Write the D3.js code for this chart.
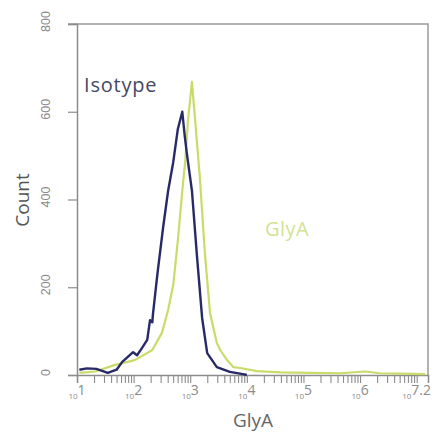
<!DOCTYPE html>
<html>
<head>
<meta charset="utf-8">
<script src="https://cdn.jsdelivr.net/npm/d3@7/dist/d3.min.js"></script>
<style>
  html, body { margin: 0; padding: 0; background: #fff; }
  svg { display: block; font-family: "Open Sans", "DejaVu Sans", sans-serif; }
</style>
</head>
<body>
<svg id="chart" width="446" height="435"></svg>
<script>
// Flow cytometry histogram: GlyA staining vs isotype control
const isotypeIntensity = [11, 15, 22, 35, 50, 63, 98, 115, 141, 174, 195, 214, 219, 263, 331, 407, 501, 603, 724, 800, 871, 1072, 1318, 1622, 1995, 2951, 5012, 8511, 10000];
const isotypeCount     = [12, 15, 14, 5, 12, 30, 52, 45, 62, 80, 125, 120, 137, 230, 335, 420, 485, 560, 600, 545, 505, 420, 270, 130, 50, 18, 7, 2, 0];

const glyaIntensity = [11, 21, 47, 105, 214, 316, 407, 501, 603, 724, 813, 912, 1072, 1259, 1479, 1820, 2239, 2951, 3388, 4467, 5754, 7586, 15136, 38905, 131826, 446684, 1230269, 2238721, 5128614, 14125375];
const glyaCount     = [5, 8, 23, 34, 57, 96, 148, 205, 305, 420, 485, 580, 668, 560, 450, 275, 141, 73, 57, 34, 18, 16, 9, 6, 5, 4, 8, 4, 3, 2];

const countTicks = [0, 200, 400, 600, 800];
const decadeExponents = ["1", "2", "3", "4", "5", "6", "7.2"];

const svg = d3.select("#chart");
const margin = { left: 77, right: 428, top: 24, bottom: 375 };

const x = d3.scaleLog().domain([10, Math.pow(10, 7.2)]).range([margin.left, margin.right]);
const y = d3.scaleLinear().domain([0, 800]).range([margin.bottom, margin.top]);

const axisColor = "#8c8c8c";

// frame: top and right borders
svg.append("path")
  .attr("d", `M${margin.left - 9},${margin.top}H${margin.right}V${margin.bottom}`)
  .attr("fill", "none").attr("stroke", "#9a9a9a").attr("stroke-width", 1.5);

// y axis
const yAxis = d3.axisLeft(y).tickValues(countTicks).tickSize(9).tickFormat(d3.format("d"));
const yg = svg.append("g").attr("transform", `translate(${margin.left},0)`).call(yAxis);
yg.select(".domain").attr("stroke", axisColor).attr("stroke-width", 1.5);
yg.selectAll(".tick line").attr("stroke", axisColor).attr("stroke-width", 1.2);
yg.selectAll(".tick text")
  .attr("x", 0)
  .attr("transform", "translate(-31,-3) rotate(-90)")
  .attr("text-anchor", "middle")
  .attr("dy", "0.35em")
  .attr("fill", "#8a8a8a")
  .style("font-size", "12.5px");

// x axis with minor ticks per decade
const minorTicks = [];
for (let e = 1; e <= 7; e++) {
  for (let m = 1; m <= 9; m++) {
    const v = m * Math.pow(10, e);
    if (v <= Math.pow(10, 7.2)) minorTicks.push(v);
  }
}
minorTicks.push(Math.pow(10, 7.2));
const xAxis = d3.axisBottom(x).tickValues(minorTicks).tickSize(8).tickFormat("");
const xg = svg.append("g").attr("transform", `translate(0,${margin.bottom})`).call(xAxis);
xg.select(".domain").attr("stroke", axisColor).attr("stroke-width", 1.5);
xg.selectAll(".tick line").attr("stroke", axisColor).attr("stroke-width", 1.1);

// decade labels: small "10" with raised exponent
const lbl = svg.append("g").selectAll("text").data(decadeExponents).join("text")
  .attr("x", (d, i) => i === decadeExponents.length - 1 ? x(Math.pow(10, +d)) + 3 : x(Math.pow(10, +d)))
  .attr("y", 399)
  .attr("text-anchor", (d, i) => i === decadeExponents.length - 1 ? "end" : "middle")
  .attr("fill", "#8a8a8a");
lbl.append("tspan").text("10").style("font-size", "8px");
lbl.append("tspan").text(d => d).attr("dy", -4).style("font-size", "14px");

// axis titles
svg.append("text")
  .attr("x", 253).attr("y", 427)
  .attr("text-anchor", "middle")
  .attr("fill", "#666")
  .style("font-size", "19px")
  .text("GlyA");

svg.append("text")
  .attr("transform", "translate(22,200) rotate(-90)")
  .attr("text-anchor", "middle")
  .attr("dy", "0.35em")
  .attr("fill", "#555")
  .style("font-size", "19px")
  .text("Count");

// histogram lines
const line = d3.line().x(d => x(d[0])).y(d => y(d[1])).curve(d3.curveLinear);

svg.append("path")
  .datum(d3.zip(glyaIntensity, glyaCount))
  .attr("d", line)
  .attr("fill", "none")
  .attr("stroke", "#c9dc6a")
  .attr("stroke-width", 2.2)
  .attr("stroke-linejoin", "round");

svg.append("path")
  .datum(d3.zip(isotypeIntensity, isotypeCount))
  .attr("d", line)
  .attr("fill", "none")
  .attr("stroke", "#272a66")
  .attr("stroke-width", 2.4)
  .attr("stroke-linejoin", "round");

// series labels
svg.append("text")
  .attr("x", 84).attr("y", 92)
  .attr("fill", "#454866")
  .style("font-size", "20px")
  .style("letter-spacing", "0.8px")
  .text("Isotype");

svg.append("text")
  .attr("x", 265).attr("y", 236)
  .attr("fill", "#d3e293")
  .style("font-size", "20px")
  .style("letter-spacing", "0.5px")
  .text("GlyA");
</script>
</body>
</html>
